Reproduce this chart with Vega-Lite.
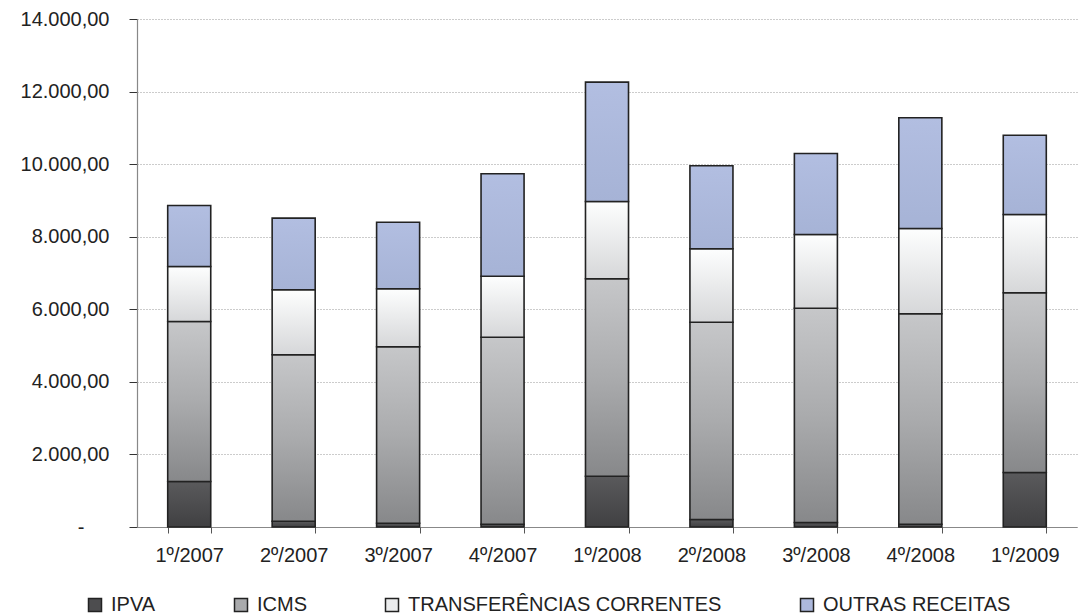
{
  "$schema": "https://vega.github.io/schema/vega-lite/v6.json",
  "width": 940,
  "height": 508,
  "autosize": {"type": "none"},
  "padding": {"left": 137, "top": 19, "right": 10, "bottom": 89},
  "background": "white",
  "config": {"view": {"stroke": null}, "font": "Liberation Sans"},
  "data": {"values": [
    {"periodo": "1º/2007", "serie": "IPVA", "valor": 1254},
    {"periodo": "1º/2007", "serie": "ICMS", "valor": 4410},
    {"periodo": "1º/2007", "serie": "TRANSFERÊNCIAS CORRENTES", "valor": 1515},
    {"periodo": "1º/2007", "serie": "OUTRAS RECEITAS", "valor": 1682},
    {"periodo": "2º/2007", "serie": "IPVA", "valor": 160},
    {"periodo": "2º/2007", "serie": "ICMS", "valor": 4586},
    {"periodo": "2º/2007", "serie": "TRANSFERÊNCIAS CORRENTES", "valor": 1791},
    {"periodo": "2º/2007", "serie": "OUTRAS RECEITAS", "valor": 1974},
    {"periodo": "3º/2007", "serie": "IPVA", "valor": 105},
    {"periodo": "3º/2007", "serie": "ICMS", "valor": 4861},
    {"periodo": "3º/2007", "serie": "TRANSFERÊNCIAS CORRENTES", "valor": 1599},
    {"periodo": "3º/2007", "serie": "OUTRAS RECEITAS", "valor": 1835},
    {"periodo": "4º/2007", "serie": "IPVA", "valor": 77},
    {"periodo": "4º/2007", "serie": "ICMS", "valor": 5154},
    {"periodo": "4º/2007", "serie": "TRANSFERÊNCIAS CORRENTES", "valor": 1681},
    {"periodo": "4º/2007", "serie": "OUTRAS RECEITAS", "valor": 2822},
    {"periodo": "1º/2008", "serie": "IPVA", "valor": 1400},
    {"periodo": "1º/2008", "serie": "ICMS", "valor": 5440},
    {"periodo": "1º/2008", "serie": "TRANSFERÊNCIAS CORRENTES", "valor": 2131},
    {"periodo": "1º/2008", "serie": "OUTRAS RECEITAS", "valor": 3288},
    {"periodo": "2º/2008", "serie": "IPVA", "valor": 207},
    {"periodo": "2º/2008", "serie": "ICMS", "valor": 5437},
    {"periodo": "2º/2008", "serie": "TRANSFERÊNCIAS CORRENTES", "valor": 2023},
    {"periodo": "2º/2008", "serie": "OUTRAS RECEITAS", "valor": 2288},
    {"periodo": "3º/2008", "serie": "IPVA", "valor": 124},
    {"periodo": "3º/2008", "serie": "ICMS", "valor": 5906},
    {"periodo": "3º/2008", "serie": "TRANSFERÊNCIAS CORRENTES", "valor": 2031},
    {"periodo": "3º/2008", "serie": "OUTRAS RECEITAS", "valor": 2233},
    {"periodo": "4º/2008", "serie": "IPVA", "valor": 77},
    {"periodo": "4º/2008", "serie": "ICMS", "valor": 5799},
    {"periodo": "4º/2008", "serie": "TRANSFERÊNCIAS CORRENTES", "valor": 2351},
    {"periodo": "4º/2008", "serie": "OUTRAS RECEITAS", "valor": 3051},
    {"periodo": "1º/2009", "serie": "IPVA", "valor": 1502},
    {"periodo": "1º/2009", "serie": "ICMS", "valor": 4953},
    {"periodo": "1º/2009", "serie": "TRANSFERÊNCIAS CORRENTES", "valor": 2158},
    {"periodo": "1º/2009", "serie": "OUTRAS RECEITAS", "valor": 2185}
  ]},
  "transform": [
    {"calculate": "indexof(['IPVA','ICMS','TRANSFERÊNCIAS CORRENTES','OUTRAS RECEITAS'], datum.serie)", "as": "ordem"}
  ],
  "layer": [
    {
      "mark": {"type": "bar", "stroke": "#222222", "strokeWidth": 1.6, "fillOpacity": 1},
      "encoding": {
        "x": {
          "field": "periodo", "type": "nominal", "sort": null,
          "scale": {"paddingInner": 0.588, "paddingOuter": 0.294},
          "axis": {
            "title": null, "labelAngle": 0, "labelFontSize": 20, "labelColor": "#222222",
            "labelPadding": 12, "tickSize": 6, "tickColor": "#555555", "tickBand": "extent",
            "domainColor": "#888888", "domainWidth": 1.2
          }
        },
        "y": {
          "field": "valor", "type": "quantitative", "stack": "zero",
          "scale": {"domain": [0, 14000], "nice": false},
          "axis": {
            "title": null, "values": [0, 2000, 4000, 6000, 8000, 10000, 12000, 14000],
            "labelExpr": "datum.value == 0 ? '-' : replace(replace(replace(format(datum.value, ',.2f'), ',', '#'), '.', ','), '#', '.')",
            "labelFontSize": 20, "labelColor": "#222222",
            "labelPadding": {"condition": {"test": "datum.value == 0", "value": 45}, "value": 20},
            "tickSize": 8, "tickColor": "#333333", "domainColor": "#888888", "domainWidth": 1.2,
            "grid": true, "gridColor": "#999999", "gridDash": [1, 2], "gridWidth": 1
          }
        },
        "fill": {
          "condition": [
            {"test": "datum.serie === 'IPVA'", "value": {"gradient": "linear", "x1": 0, "y1": 0, "x2": 0, "y2": 1, "stops": [{"offset": 0, "color": "#5a5a5c"}, {"offset": 1, "color": "#404042"}]}},
            {"test": "datum.serie === 'ICMS'", "value": {"gradient": "linear", "x1": 0, "y1": 0, "x2": 0, "y2": 1, "stops": [{"offset": 0, "color": "#c6c7c9"}, {"offset": 0.5, "color": "#aaabad"}, {"offset": 1, "color": "#87888a"}]}},
            {"test": "datum.serie === 'TRANSFERÊNCIAS CORRENTES'", "value": {"gradient": "linear", "x1": 0, "y1": 0, "x2": 0, "y2": 1, "stops": [{"offset": 0, "color": "#fdfefe"}, {"offset": 1, "color": "#d6d7d9"}]}}
          ],
          "value": {"gradient": "linear", "x1": 0, "y1": 0, "x2": 0, "y2": 1, "stops": [{"offset": 0, "color": "#b2bee1"}, {"offset": 1, "color": "#a6b3d6"}]}
        },
        "detail": {"field": "serie", "type": "nominal"},
        "order": {"field": "ordem", "type": "quantitative"}
      }
    },
    {
      "transform": [{"filter": "false"}],
      "mark": {"type": "bar"},
      "encoding": {
        "fill": {
          "field": "serie", "type": "nominal",
          "scale": {
            "domain": ["IPVA", "ICMS", "TRANSFERÊNCIAS CORRENTES", "OUTRAS RECEITAS"],
            "range": ["#4d4d4f", "#a9aaac", "#ebeced", "#acb8dc"]
          },
          "legend": {
            "title": null, "orient": "none", "direction": "horizontal", "columns": 4,
            "legendX": -52, "legendY": 576, "padding": 0, "columnPadding": 75,
            "symbolType": "square", "symbolSize": 169, "symbolStrokeWidth": 1.5, "symbolStrokeColor": "#222222",
            "symbolOpacity": 1,
            "labelFontSize": 20, "labelColor": "#222222", "labelOffset": 6, "labelLimit": 400
          }
        }
      }
    }
  ]
}
